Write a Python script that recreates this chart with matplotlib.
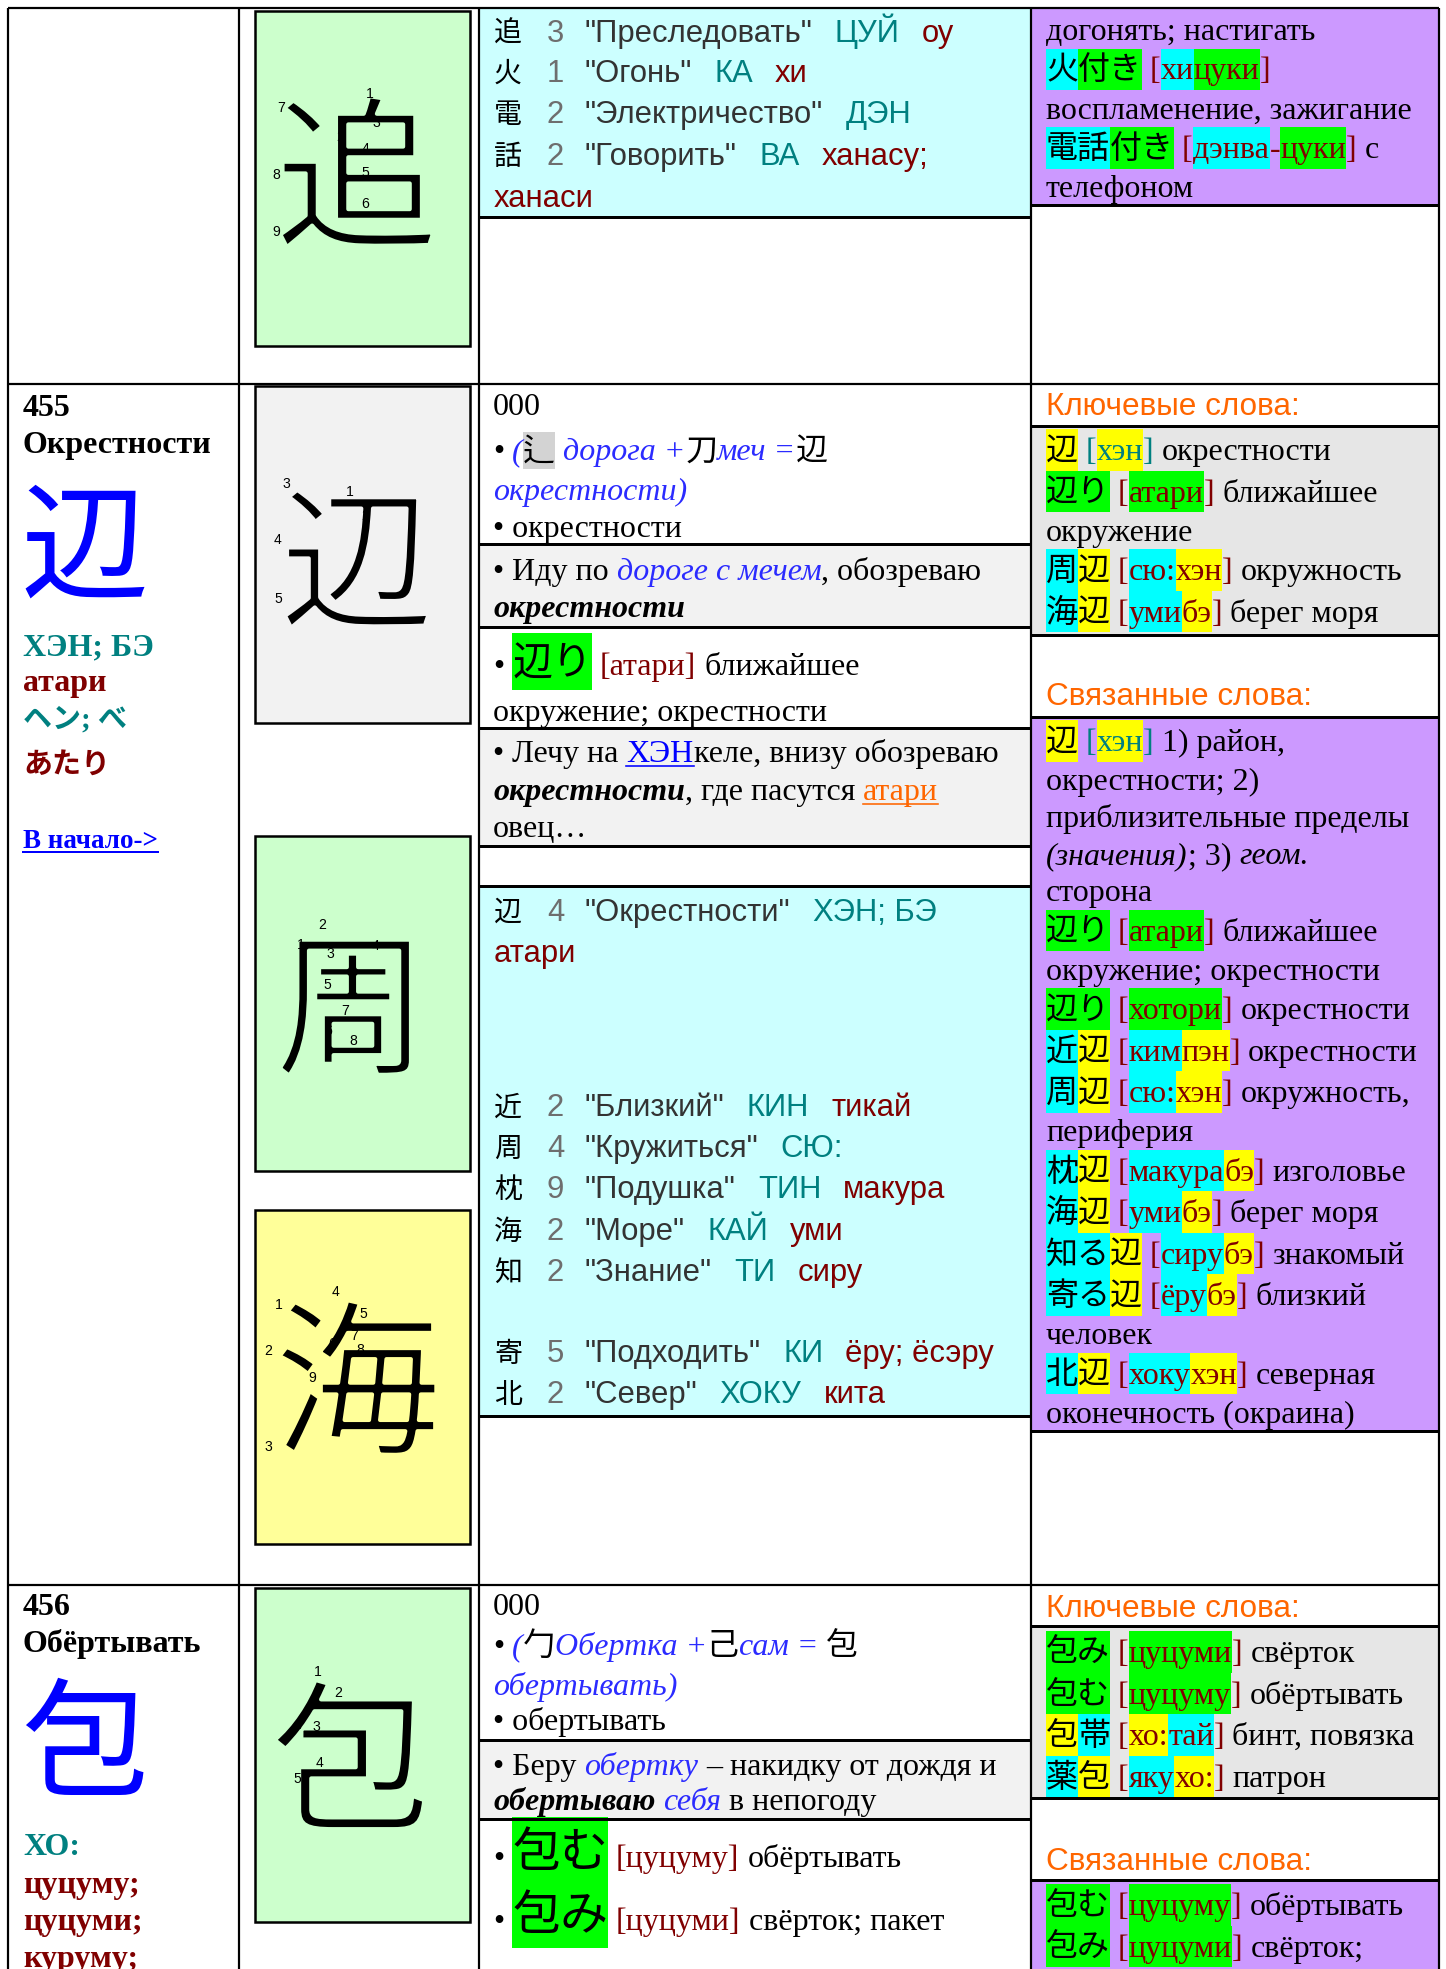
import matplotlib
matplotlib.use("Agg")
import matplotlib.pyplot as plt
import matplotlib.patheffects as pe
from matplotlib.patches import Rectangle

W, H, DPI = 1446, 1969, 72
SERIF = ["Liberation Serif", "Noto Sans CJK JP"]
SANS = ["Liberation Sans", "Noto Sans CJK JP"]
CJK = ["Noto Sans CJK JP", "DejaVu Sans"]

DARKRED, TEAL, BLUE, LBLUE, ORANGE = "#800000", "#008080", "#0000ff", "#2b2bff", "#ff6600"
BG = {"c": "#00ffff", "g": "#00ff00", "y": "#ffff00", "l": "#d3d3d3"}
STYLE = {
    "k": dict(color="black"),
    "K": dict(color="black", size=40),
    "r": dict(color=DARKRED),
    "t": dict(color=TEAL),
    "i": dict(color=LBLUE, style="italic"),
    "ik": dict(color="black", style="italic"),
    "bi": dict(color="black", weight="bold", style="italic"),
    "u": dict(color=BLUE, underline=True),
    "ou": dict(color=ORANGE, underline=True),
}

# ---------------- data: readings tables (kanji, strokes, meaning, on, kun) ----------------
TOP_CYAN = [("追", "3", "Преследовать", "ЦУЙ", "оу"),
            ("火", "1", "Огонь", "КА", "хи"),
            ("電", "2", "Электричество", "ДЭН", ""),
            ("話", "2", "Говорить", "ВА", "ханасу;"),
            ("", "", "", "", "ханаси")]
CYAN_455 = [("辺", "4", "Окрестности", "ХЭН; БЭ", ""),
            ("", "", "", "", "атари"),
            ("近", "2", "Близкий", "КИН", "тикай"),
            ("周", "4", "Кружиться", "СЮ:", ""),
            ("枕", "9", "Подушка", "ТИН", "макура"),
            ("海", "2", "Море", "КАЙ", "уми"),
            ("知", "2", "Знание", "ТИ", "сиру"),
            ("寄", "5", "Подходить", "КИ", "ёру; ёсэру"),
            ("北", "2", "Север", "ХОКУ", "кита")]

# ---------------- data: word lists (text, style, highlight) ----------------
TOP_PURPLE = [
    [("догонять; настигать", "k", None)],
    [("火", "k", "c"), ("付き", "k", "g"), (" [", "r", None), ("хи", "r", "c"), ("цуки", "r", "g"), ("]", "r", None)],
    [("воспламенение, зажигание", "k", None)],
    [("電話", "k", "c"), ("付き", "k", "g"), (" [", "r", None), ("дэнва", "r", "c"), ("-", "r", None),
     ("цуки", "r", "g"), ("]", "r", None), (" с", "k", None)],
    [("телефоном", "k", None)],
]
KEY_455 = [
    [("辺", "k", "y"), (" [", "t", None), ("хэн", "t", "y"), ("]", "t", None), (" окрестности", "k", None)],
    [("辺り", "k", "g"), (" [", "r", None), ("атари", "r", "g"), ("]", "r", None), (" ближайшее", "k", None)],
    [("окружение", "k", None)],
    [("周", "k", "c"), ("辺", "k", "y"), (" [", "r", None), ("сю:", "r", "c"), ("хэн", "r", "y"), ("]", "r", None),
     (" окружность", "k", None)],
    [("海", "k", "c"), ("辺", "k", "y"), (" [", "r", None), ("уми", "r", "c"), ("бэ", "r", "y"), ("]", "r", None),
     (" берег моря", "k", None)],
]
REL_455 = [
    [("辺", "k", "y"), (" [", "t", None), ("хэн", "t", "y"), ("]", "t", None), (" 1) район,", "k", None)],
    [("окрестности; 2)", "k", None)],
    [("приблизительные пределы", "k", None)],
    [("(значения)", "ik", None), ("; 3) ", "k", None), ("геом.", "ik", None)],
    [("сторона", "k", None)],
    [("辺り", "k", "g"), (" [", "r", None), ("атари", "r", "g"), ("]", "r", None), (" ближайшее", "k", None)],
    [("окружение; окрестности", "k", None)],
    [("辺り", "k", "g"), (" [", "r", None), ("хотори", "r", "g"), ("]", "r", None), (" окрестности", "k", None)],
    [("近", "k", "c"), ("辺", "k", "y"), (" [", "r", None), ("ким", "r", "c"), ("пэн", "r", "y"), ("]", "r", None),
     (" окрестности", "k", None)],
    [("周", "k", "c"), ("辺", "k", "y"), (" [", "r", None), ("сю:", "r", "c"), ("хэн", "r", "y"), ("]", "r", None),
     (" окружность,", "k", None)],
    [("периферия", "k", None)],
    [("枕", "k", "c"), ("辺", "k", "y"), (" [", "r", None), ("макура", "r", "c"), ("бэ", "r", "y"), ("]", "r", None),
     (" изголовье", "k", None)],
    [("海", "k", "c"), ("辺", "k", "y"), (" [", "r", None), ("уми", "r", "c"), ("бэ", "r", "y"), ("]", "r", None),
     (" берег моря", "k", None)],
    [("知る", "k", "c"), ("辺", "k", "y"), (" [", "r", None), ("сиру", "r", "c"), ("бэ", "r", "y"), ("]", "r", None),
     (" знакомый", "k", None)],
    [("寄る", "k", "c"), ("辺", "k", "y"), (" [", "r", None), ("ёру", "r", "c"), ("бэ", "r", "y"), ("]", "r", None),
     (" близкий", "k", None)],
    [("человек", "k", None)],
    [("北", "k", "c"), ("辺", "k", "y"), (" [", "r", None), ("хоку", "r", "c"), ("хэн", "r", "y"), ("]", "r", None),
     (" северная", "k", None)],
    [("оконечность (окраина)", "k", None)],
]
KEY_456 = [
    [("包み", "k", "g"), (" [", "r", None), ("цуцуми", "r", "g"), ("]", "r", None), (" свёрток", "k", None)],
    [("包む", "k", "g"), (" [", "r", None), ("цуцуму", "r", "g"), ("]", "r", None), (" обёртывать", "k", None)],
    [("包", "k", "y"), ("帯", "k", "c"), (" [", "r", None), ("хо:", "r", "y"), ("тай", "r", "c"), ("]", "r", None),
     (" бинт, повязка", "k", None)],
    [("薬", "k", "c"), ("包", "k", "y"), (" [", "r", None), ("яку", "r", "c"), ("хо:", "r", "y"), ("]", "r", None),
     (" патрон", "k", None)],
]
REL_456 = [
    [("包む", "k", "g"), (" [", "r", None), ("цуцуму", "r", "g"), ("]", "r", None), (" обёртывать", "k", None)],
    [("包み", "k", "g"), (" [", "r", None), ("цуцуми", "r", "g"), ("]", "r", None), (" свёрток;", "k", None)],
]

# ---------------- data: explanation blocks ----------------
MID_455 = [
    [[("000", "k", None)],
     [("• ", "k", None), ("(", "i", None), ("辶", "k", "l"), (" дорога +", "i", None), ("刀", "k", None),
      ("меч =", "i", None), ("辺", "k", None)],
     [("окрестности)", "i", None)],
     [("• окрестности", "k", None)]],
    [[("• Иду по ", "k", None), ("дороге с мечем", "i", None), (", обозреваю", "k", None)],
     [("окрестности", "bi", None)]],
    [[("• ", "k", None), ("辺り", "K", "g"), (" [атари]", "r", None), (" ближайшее", "k", None)],
     [("окружение; окрестности", "k", None)]],
    [[("• Лечу на ", "k", None), ("ХЭН", "u", None), ("келе, внизу обозреваю", "k", None)],
     [("окрестности", "bi", None), (", где пасутся ", "k", None), ("атари", "ou", None)],
     [("овец…", "k", None)]],
]
MID_456 = [
    [[("000", "k", None)],
     [("• ", "k", None), ("(", "i", None), ("勹", "k", None), ("Обертка +", "i", None), ("己", "k", None),
      ("сам = ", "i", None), ("包", "k", None)],
     [("обертывать)", "i", None)],
     [("• обертывать", "k", None)]],
    [[("• Беру ", "k", None), ("обертку", "i", None), (" – накидку от дождя и", "k", None)],
     [("обертываю", "bi", None), (" себя", "i", None), (" в непогоду", "k", None)]],
    [[("• ", "k", None), ("包む", "K", "g"), (" [цуцуму]", "r", None), (" обёртывать", "k", None)],
     [("• ", "k", None), ("包み", "K", "g"), (" [цуцуми]", "r", None), (" свёрток; пакет", "k", None)]],
]

ENTRY_NUMS = ["455", "456"]
ENTRY_TITLES = ["Окрестности", "Обёртывать"]
ENTRY_KANJI = ["辺", "包"]
ENTRY_READINGS = [[("ХЭН; БЭ", TEAL), ("атари", DARKRED), ("ヘン; べ", TEAL), ("あたり", DARKRED)],
                  [("ХО:", TEAL), ("цуцуму;", DARKRED), ("цуцуми;", DARKRED), ("куруму;", DARKRED)]]
LINK_TEXT = "В начало->"

STROKE_KANJI = ["追", "辺", "周", "海", "包"]
STROKE_FILL = ["#ccffcc", "#f2f2f2", "#ccffcc", "#ffff99", "#ccffcc"]
STROKE_NUMS = [
    [(1, 370, 94), (2, 340, 137), (3, 376, 123), (4, 365, 149), (5, 365, 173), (6, 365, 204),
     (7, 281, 108), (8, 276, 175), (9, 276, 232)],
    [(1, 350, 492), (2, 365, 516), (3, 286, 484), (4, 278, 540), (5, 278, 599)],
    [(1, 301, 945), (2, 322, 925), (3, 330, 954), (4, 375, 946), (5, 327, 985), (6, 328, 1031),
     (7, 345, 1011), (8, 353, 1041)],
    [(1, 279, 1305), (2, 268, 1351), (3, 268, 1447), (4, 335, 1292), (5, 363, 1314), (6, 332, 1344),
     (7, 354, 1336), (8, 360, 1350), (9, 312, 1378)],
    [(1, 318, 1672), (2, 338, 1693), (3, 316, 1727), (4, 320, 1763), (5, 297, 1779)],
]

# ---------------- drawing helpers ----------------
fig = plt.figure(figsize=(W / DPI, H / DPI), dpi=DPI)
ax = fig.add_axes([0, 0, 1, 1])
ax.set_xlim(0, W); ax.set_ylim(H, 0); ax.axis("off")
R = fig.canvas.get_renderer()
_cache = {}


def tw(s, fam, size, weight="normal", style="normal"):
    key = (s, tuple(fam), size, weight, style)
    if key not in _cache:
        kw = dict(family=fam, fontsize=size, weight=weight, style=style)
        a = ax.text(0, 0, "|" + s + "|", **kw); b = ax.text(0, 0, "||", **kw)
        _cache[key] = a.get_window_extent(R).width - b.get_window_extent(R).width
        a.remove(); b.remove()
    return _cache[key]


def put(x, base, s, fam, size, color="black", weight="normal", style="normal", z=4):
    core = s.lstrip(" ")
    lead = tw(s[:len(s) - len(core)], fam, size, weight, style) if core != s else 0
    ax.text(x + lead, base, core.rstrip(" "), family=fam, fontsize=size, color=color, weight=weight,
            style=style, ha="left", va="baseline", zorder=z)
    return tw(s, fam, size, weight, style)


def draw_line(x, yc, runs, size=32, fam=SERIF, h=37):
    base = yc + 0.32 * size
    for s, st, bg in runs:
        d = STYLE[st]
        sz = d.get("size", size)
        wt, sl = d.get("weight", "normal"), d.get("style", "normal")
        w = tw(s, fam, sz, wt, sl)
        if bg:
            y0, y1 = (base - 1.05 * sz, base + 0.38 * sz) if sz > size else (yc - h / 2, yc + h / 2)
            ax.add_patch(Rectangle((x, y0), w, y1 - y0, fc=BG[bg], ec="none", zorder=2))
        put(x, base, s, fam, sz, d["color"], wt, sl)
        if d.get("underline"):
            ax.plot([x, x + w], [base + 3.5, base + 3.5], color=d["color"], lw=1.6, zorder=4)
        x += w


def draw_list(x, yc, lines, size=32):
    prev = None
    for runs in lines:
        h = 41.5 if any(r[2] for r in runs) else 37
        if prev is not None:
            yc += (prev + h) / 2
        draw_line(x, yc, runs, size=size, h=h)
        prev = h


def draw_cyan(x, ys, rows, size=31, gap=22):
    for yc, (kj, num, mean, on, kun) in zip(ys, rows):
        base = yc + 0.32 * size
        if kj:
            put(x, base, kj, CJK, size - 3)
            put(x + 53, base, num, SANS, size, "#6e6e6e")
        xx = x + 91 if mean else x
        if mean:
            xx += put(xx, base, '"' + mean + '"', SANS, size, "#333333") + gap
        if on:
            xx += put(xx, base, on, SANS, size, TEAL) + gap
        if kun:
            put(xx, base, kun, SANS, size, DARKRED)


def box(x0, y0, x1, y1, fc, ec="none", lw=0, z=1):
    ax.add_patch(Rectangle((x0, y0), x1 - x0, y1 - y0, fc=fc, ec=ec, lw=lw, zorder=z))


def hline(y, x0, x1, lw=2.2):
    ax.plot([x0, x1], [y, y], color="black", lw=lw, solid_capstyle="butt", zorder=6)


def vline(x, y0, y1, lw=2.2):
    ax.plot([x, x], [y0, y1], color="black", lw=lw, solid_capstyle="butt", zorder=6)


# ---------------- table grid ----------------
X0, X1, X2, X3, X4 = 7.5, 239, 478.5, 1031, 1438.5
Y0, YA, YB = 7.5, 383.5, 1585
for x in (X0, X1, X2, X3, X4):
    vline(x, Y0, H)
for y in (Y0, YA, YB):
    hline(y, X0, X4)

# stroke order boxes (kanji drawn thin by over-stroking its outline with the box colour)
STROKE_BOX = [(255, 11, 470, 346), (255, 386, 470, 723), (255, 836, 470, 1171),
              (255, 1210, 470, 1544), (255, 1588, 470, 1922)]
STROKE_POS = [(357, 172, 165), (357, 557, 155), (352, 1003, 155), (357, 1377, 168), (351, 1755, 163)]
for (x0, y0, x1, y1), fc, kj, (cx, cy, fs), nums in zip(STROKE_BOX, STROKE_FILL, STROKE_KANJI,
                                                         STROKE_POS, STROKE_NUMS):
    box(x0, y0, x1, y1, fc, ec="black", lw=2.5, z=1)
    ax.text(cx, cy + 0.1 * fs, kj, family=CJK, fontsize=fs, ha="center", va="center", zorder=3,
            path_effects=[pe.Stroke(linewidth=4, foreground=fc)])
    for n, nx, ny in nums:
        ax.text(nx, ny, str(n), family=["Liberation Sans"], fontsize=14, ha="center", va="center", zorder=4)

# ---------------- top row (end of previous entry) ----------------
box(480, 8, X3, 217, "#ccffff")
hline(217, X2, X3, 3)
draw_cyan(494, [32, 72, 113, 155, 197], TOP_CYAN)
box(X3, 8, X4, 205, "#cc99ff")
hline(205, X3, X4, 3)
draw_list(1046, 30, TOP_PURPLE)

# ---------------- left column entries ----------------
LEFT_Y = [(416, 453, (84, 541), [655, 691, 728, 773]),
          (1615, 1652, (85, 1738), [1855, 1893, 1930, 1967])]
for num, title, kj, reads, (yn, yt, (kx, ky), yr) in zip(ENTRY_NUMS, ENTRY_TITLES, ENTRY_KANJI,
                                                          ENTRY_READINGS, LEFT_Y):
    put(23, yn, num, SERIF, 32, weight="bold")
    put(23, yt, title, SERIF, 32, weight="bold")
    ax.text(kx, ky + 0.09 * 128, kj, family=CJK, fontsize=128, color=BLUE, ha="center", va="center", zorder=3)
    for (s, col), y in zip(reads, yr):
        kana = any(ord(c) > 0x3000 for c in s)
        put(23, y, s, SERIF, 29 if kana else 32, col, weight="bold")
w = put(23, 848, LINK_TEXT, SERIF, 27, BLUE, weight="bold")
ax.plot([23, 23 + w], [852, 852], color=BLUE, lw=2, zorder=4)

# ---------------- entry 455: explanation column ----------------
box(X2, 544, X3, 627, "#f2f2f2")
box(X2, 728, X3, 846, "#f2f2f2")
for y in (544, 627, 728, 846, 886, 1416):
    hline(y, X2, X3, 3)
MID_455_Y = [[405, 450, 490, 527], [570, 607], [665, 711], [752, 790, 827]]
for block, ys in zip(MID_455, MID_455_Y):
    for runs, yc in zip(block, ys):
        draw_line(493, yc, runs)
box(480, 887, X3, 1415, "#ccffff")
draw_cyan(494, [911, 952, 1106, 1147, 1188, 1230, 1271, 1352, 1393], CYAN_455)

# ---------------- entry 455: words column ----------------
put(1046, 415, "Ключевые слова:", SANS, 31.5, ORANGE)
box(X3, 426, X4, 635, "#e6e6e6")
hline(426, X3, X4, 3); hline(635, X3, X4, 3)
draw_list(1046, 450, KEY_455)
put(1046, 705, "Связанные слова:", SANS, 31.5, ORANGE)
box(X3, 717, X4, 1431, "#cc99ff")
hline(717, X3, X4, 3); hline(1431, X3, X4, 3)
draw_list(1046, 741, REL_455)

# ---------------- entry 456 ----------------
box(X2, 1740, X3, 1819, "#f2f2f2")
hline(1740, X2, X3, 3); hline(1819, X2, X3, 3)
STYLE["K"] = dict(color="black", size=48)
MID_456_Y = [[1605, 1645, 1685, 1720], [1765, 1800], [1857, 1920]]
for block, ys in zip(MID_456, MID_456_Y):
    for runs, yc in zip(block, ys):
        draw_line(493, yc, runs)
put(1046, 1617, "Ключевые слова:", SANS, 31.5, ORANGE)
box(X3, 1626, X4, 1798, "#e6e6e6")
hline(1626, X3, X4, 3); hline(1798, X3, X4, 3)
draw_list(1046, 1652, KEY_456)
put(1046, 1870, "Связанные слова:", SANS, 31.5, ORANGE)
box(X3, 1880, X4, H, "#cc99ff")
hline(1880, X3, X4, 3)
draw_list(1046, 1905, REL_456)

fig.savefig("out.png", dpi=DPI, facecolor="white")
